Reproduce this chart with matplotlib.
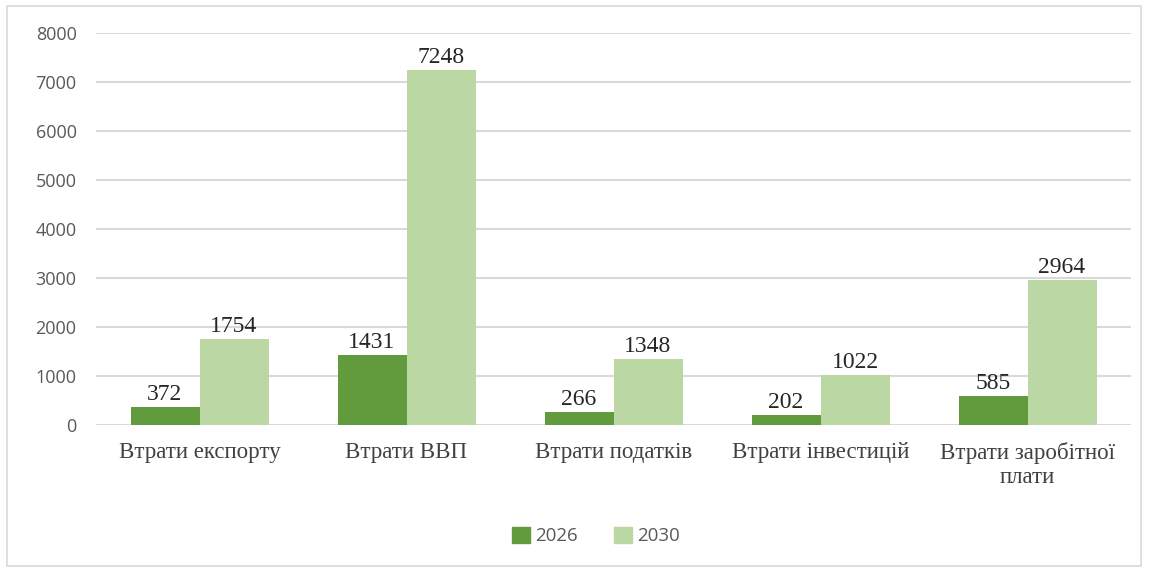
import matplotlib.pyplot as plt
import numpy as np
from matplotlib.patches import Rectangle, Patch

categories = ["Втрати експорту", "Втрати ВВП", "Втрати податків",
              "Втрати інвестицій", "Втрати заробітної\nплати"]
years = ["2026", "2030"]
values_2026 = [372, 1431, 266, 202, 585]
values_2030 = [1754, 7248, 1348, 1022, 2964]
yticks = [0, 1000, 2000, 3000, 4000, 5000, 6000, 7000, 8000]

dark = "#629B3E"
light = "#BAD7A4"
serif = ["Liberation Serif", "DejaVu Serif"]
sans = ["Open Sans", "DejaVu Sans"]

fig = plt.figure(figsize=(11.5, 5.69), dpi=100)
fig.patches.append(Rectangle((7 / 1150, 0.006), 1134 / 1150, 1 - 6 / 569 - 0.006,
                             transform=fig.transFigure, fill=False,
                             edgecolor="#D9D9D9", linewidth=1.2))
ax = fig.add_axes([96 / 1150, 1 - 425 / 569, 1035 / 1150, 392 / 569])

x = np.arange(len(categories))
w = 1 / 3
b1 = ax.bar(x - w / 2, values_2026, w, color=dark, zorder=3, label=years[0])
b2 = ax.bar(x + w / 2, values_2030, w, color=light, zorder=3, label=years[1])

for bars, vals in ((b1, values_2026), (b2, values_2030)):
    for r, v in zip(bars, vals):
        ax.text(r.get_x() + r.get_width() / 2, v + 40, str(v), ha="center",
                va="bottom", fontsize=17, family=serif, color="#262626")

ax.set_xlim(-0.5, len(categories) - 0.5)
ax.set_ylim(0, 8000)
ax.set_yticks(yticks)
ax.set_yticklabels([str(t) for t in yticks], family=sans, fontsize=13,
                   color="#595959")
ax.set_xticks(x)
ax.set_xticklabels(categories, family=serif, fontsize=16.5, color="#404040",
                   linespacing=1.2)
ax.tick_params(axis="both", length=0)
ax.tick_params(axis="y", pad=14)
ax.tick_params(axis="x", pad=12)
ax.grid(axis="y", color="#D9D9D9", linewidth=1.5, zorder=0)
for s in ax.spines.values():
    s.set_visible(False)

handles = [Patch(color=dark), Patch(color=light)]
fig.legend(handles, years, loc="center", bbox_to_anchor=(596 / 1150, 1 - 536 / 569),
           ncol=2, frameon=False, prop={"family": sans, "size": 13.5},
           labelcolor="#595959", handlelength=0.95, handleheight=0.95,
           handletextpad=0.3, columnspacing=1.9)

fig.savefig("out.png", dpi=100)
